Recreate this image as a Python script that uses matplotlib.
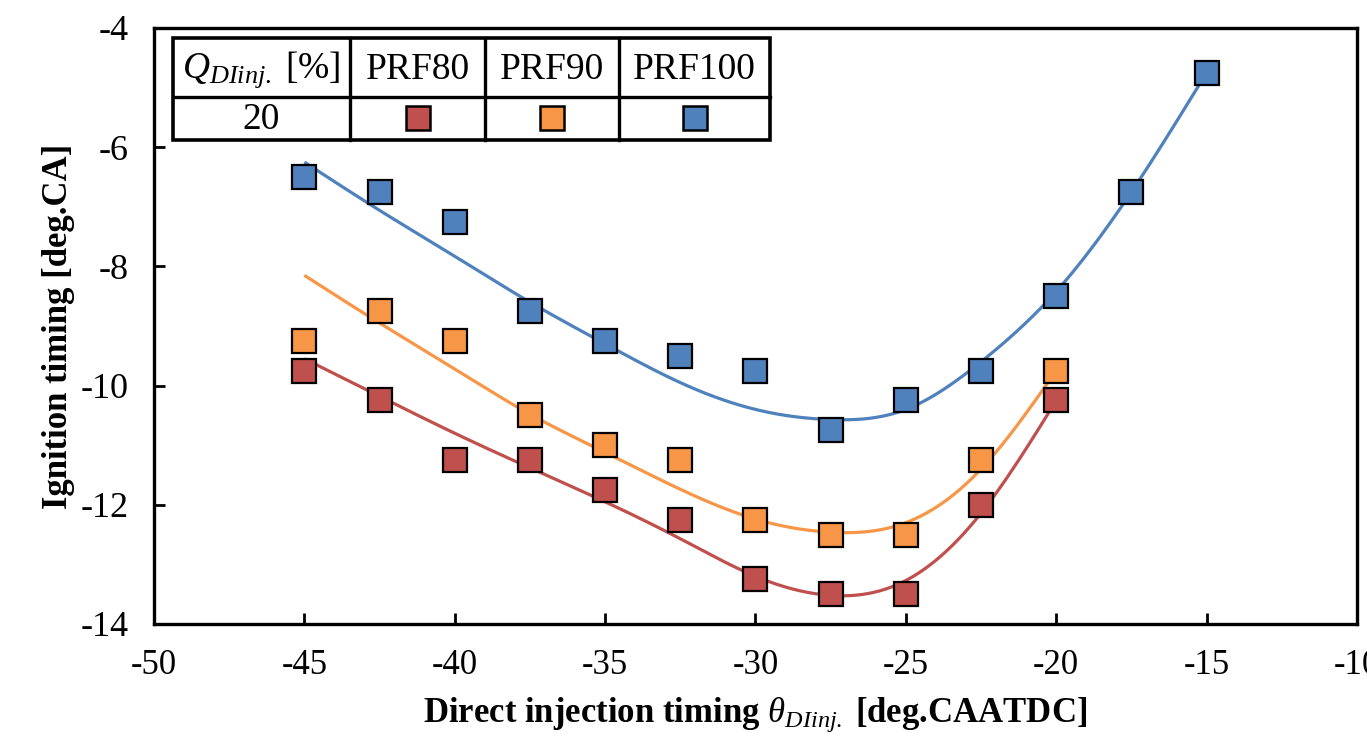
import numpy as np
import matplotlib
matplotlib.use("Agg")
import matplotlib.pyplot as plt

# Measured ignition timing vs. direct injection timing (Q_DIinj = 20 %)
inj_prf80 = [-45, -42.5, -40, -37.5, -35, -32.5, -30, -27.5, -25, -22.5, -20]
ign_prf80 = [-9.75, -10.25, -11.25, -11.25, -11.75, -12.25, -13.25, -13.5, -13.5, -12.0, -10.25]

inj_prf90 = [-45, -42.5, -40, -37.5, -35, -32.5, -30, -27.5, -25, -22.5, -20]
ign_prf90 = [-9.25, -8.75, -9.25, -10.5, -11.0, -11.25, -12.25, -12.5, -12.5, -11.25, -9.75]

inj_prf100 = [-45, -42.5, -40, -37.5, -35, -32.5, -30, -27.5, -25, -22.5, -20, -17.5, -15]
ign_prf100 = [-6.5, -6.75, -7.25, -8.75, -9.25, -9.5, -9.75, -10.75, -10.25, -9.75, -8.5, -6.75, -4.75]

# Trend line values at the same injection timings
trend_prf80 = [-9.55, -10.18, -10.8, -11.38, -11.95, -12.57, -13.2, -13.52, -13.27, -12.14, -10.25]
trend_prf90 = [-8.15, -8.95, -9.72, -10.48, -11.12, -11.74, -12.24, -12.46, -12.3, -11.4, -9.75]
trend_prf100 = [-6.25, -7.06, -7.83, -8.6, -9.3, -9.95, -10.4, -10.57, -10.4, -9.6, -8.42, -6.75, -4.75]

series_names = ["PRF80", "PRF90", "PRF100"]
series_colors = ["#C0504D", "#F79646", "#4F81BD"]
q_di = "20"

x_ticks = [-50, -45, -40, -35, -30, -25, -20, -15, -10]
y_ticks = [-14, -12, -10, -8, -6, -4]


def natural_spline(x, y, xs):
    """Natural cubic spline through (x, y), evaluated at xs."""
    x = np.asarray(x, float)
    y = np.asarray(y, float)
    n = len(x)
    h = np.diff(x)
    A = np.zeros((n, n))
    b = np.zeros(n)
    A[0, 0] = A[-1, -1] = 1.0
    for i in range(1, n - 1):
        A[i, i - 1] = h[i - 1]
        A[i, i] = 2 * (h[i - 1] + h[i])
        A[i, i + 1] = h[i]
        b[i] = 6 * ((y[i + 1] - y[i]) / h[i] - (y[i] - y[i - 1]) / h[i - 1])
    m = np.linalg.solve(A, b)
    idx = np.clip(np.searchsorted(x, xs) - 1, 0, n - 2)
    x0, x1 = x[idx], x[idx + 1]
    y0, y1 = y[idx], y[idx + 1]
    m0, m1 = m[idx], m[idx + 1]
    hh = x1 - x0
    t0 = x1 - xs
    t1 = xs - x0
    return (m0 * t0 ** 3 / (6 * hh) + m1 * t1 ** 3 / (6 * hh)
            + (y0 / hh - m0 * hh / 6) * t0 + (y1 / hh - m1 * hh / 6) * t1)


plt.rcParams["font.family"] = ["Liberation Serif", "DejaVu Serif"]
plt.rcParams["mathtext.fontset"] = "custom"
plt.rcParams["mathtext.rm"] = "Liberation Serif"
plt.rcParams["mathtext.it"] = "Liberation Serif:italic"
plt.rcParams["mathtext.bf"] = "Liberation Serif:bold"

W, H = 1367, 742
fig = plt.figure(figsize=(W / 100, H / 100), dpi=100)
ax = fig.add_axes([154 / W, 1 - 624 / H, (1357 - 154) / W, (624 - 28) / H])

data = [(inj_prf80, ign_prf80, trend_prf80),
        (inj_prf90, ign_prf90, trend_prf90),
        (inj_prf100, ign_prf100, trend_prf100)]
for (xs, ys, tr), c in zip(data, series_colors):
    xf = np.linspace(min(xs), max(xs), 400)
    ax.plot(xf, natural_spline(xs, tr, xf), color=c, lw=2.3, zorder=2,
            solid_capstyle="butt")
    ax.plot(xs, ys, ls="none", marker="s", ms=17, mfc=c, mec="black",
            mew=1.6, zorder=3)

ax.set_xlim(-50, -10)
ax.set_ylim(-14, -4)
ax.set_xticks(x_ticks)
ax.set_yticks(y_ticks)
ax.set_xticklabels([str(v) for v in x_ticks])
ax.set_yticklabels([str(v) for v in y_ticks])
ax.tick_params(direction="in", length=8, width=2, labelsize=25,
               top=False, right=False)
ax.tick_params(axis="x", pad=18)
ax.tick_params(axis="y", pad=18, labelsize=26)
for s in ax.spines.values():
    s.set_linewidth(2.4)

ax.set_xlabel(r"Direct injection timing $\theta_{DIinj.}$ [deg.CAATDC]",
              fontsize=25, fontweight="bold", labelpad=10)
ax.set_ylabel("Ignition timing [deg.CA]", fontsize=25, fontweight="bold",
              labelpad=4)

# Legend table drawn in its own pixel-unit axes
tx0, ty0, tx1, ty1 = 173, 38, 770, 140
tab = fig.add_axes([tx0 / W, 1 - ty1 / H, (tx1 - tx0) / W, (ty1 - ty0) / H])
tab.set_xlim(0, tx1 - tx0)
tab.set_ylim(ty1 - ty0, 0)
tab.axis("off")
col_edges = [0, 350 - tx0, 485 - tx0, 619 - tx0, tx1 - tx0]
row_edges = [0, 97 - ty0, ty1 - ty0]
tab.add_patch(plt.Rectangle((0, 0), tx1 - tx0, ty1 - ty0, fc="white",
                            ec="black", lw=2.6, zorder=1, clip_on=False))
for xe in col_edges[1:-1]:
    tab.plot([xe, xe], [0, ty1 - ty0], color="black", lw=2.4, clip_on=False)
tab.plot([0, tx1 - tx0], [row_edges[1]] * 2, color="black", lw=2.4,
         clip_on=False)
head = [r"$Q_{DIinj.}$ [%]"] + series_names
for i, txt in enumerate(head):
    cx = (col_edges[i] + col_edges[i + 1]) / 2
    cy = (row_edges[0] + row_edges[1]) / 2
    tab.text(cx, cy + 2, txt, ha="center", va="center", fontsize=27)
cy2 = (row_edges[1] + row_edges[2]) / 2
tab.text((col_edges[0] + col_edges[1]) / 2, cy2 + 1, q_di, ha="center",
         va="center", fontsize=27)
for i, c in enumerate(series_colors):
    cx = (col_edges[i + 1] + col_edges[i + 2]) / 2
    tab.plot([cx], [cy2], ls="none", marker="s", ms=17, mfc=c, mec="black",
             mew=1.8, clip_on=False)

fig.savefig("out.png", dpi=100)
